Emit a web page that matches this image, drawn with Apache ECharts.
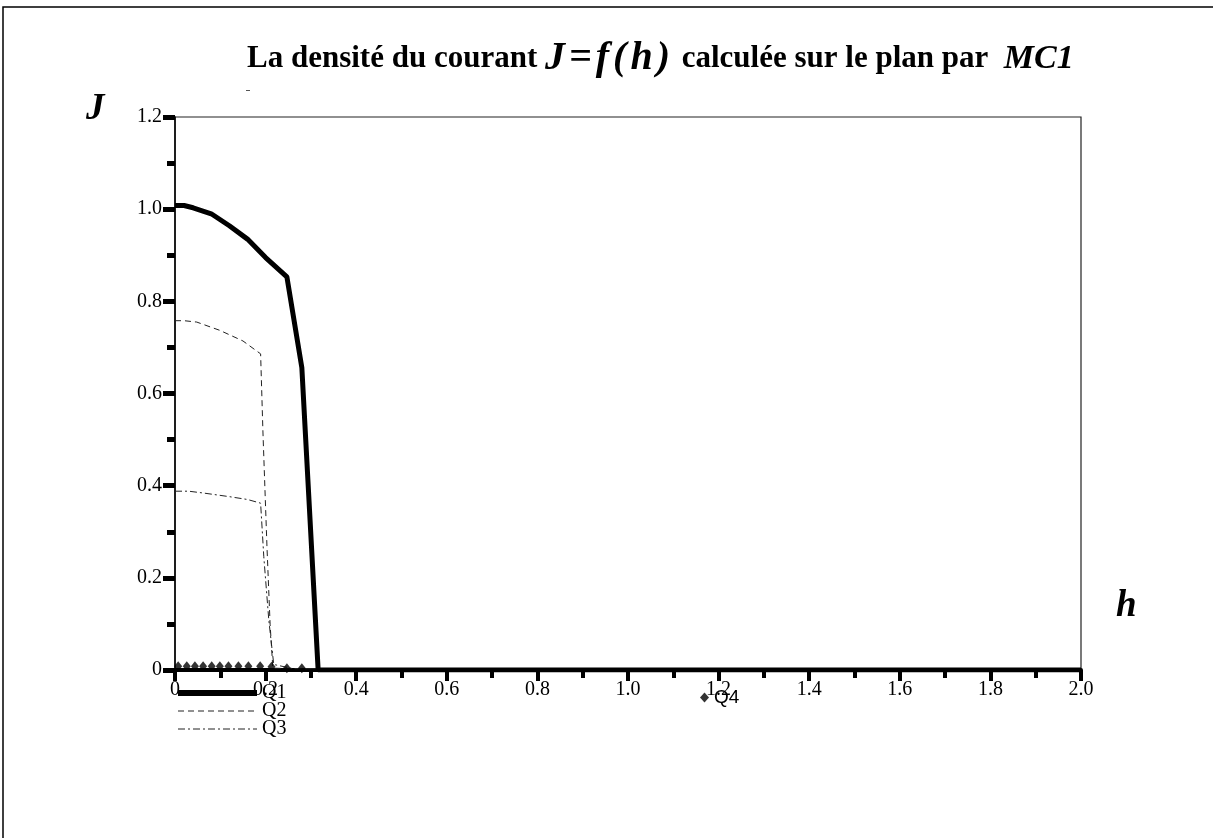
<!DOCTYPE html>
<html>
<head>
<meta charset="utf-8">
<title>J=f(h) MC1</title>
<script src="https://cdn.jsdelivr.net/npm/echarts@6/dist/echarts.min.js"></script>
<style>
  html, body { margin: 0; padding: 0; background: #fff; }
  #main { width: 1213px; height: 838px; }
</style>
</head>
<body>
<div id="main"></div>
<script>
// valeurs (h, J)
var q1H = [0, 0.02, 0.04, 0.08, 0.12, 0.16, 0.2, 0.247, 0.28, 0.316, 2.0];
var q1J = [1.008, 1.008, 1.003, 0.99, 0.964, 0.935, 0.895, 0.853, 0.656, 0, 0];

var q2H = [0, 0.02, 0.048, 0.099, 0.15, 0.189, 0.194, 0.203, 0.21, 0.216, 0.26, 2.0];
var q2J = [0.758, 0.758, 0.755, 0.737, 0.714, 0.686, 0.52, 0.268, 0.098, 0.004, 0.003, 0];

var q3H = [0, 0.03, 0.063, 0.121, 0.16, 0.189, 0.196, 0.207, 0.218, 0.26, 2.0];
var q3J = [0.388, 0.388, 0.384, 0.376, 0.37, 0.362, 0.246, 0.109, 0.012, 0.003, 0];

var q4H = [0.007, 0.026, 0.044, 0.062, 0.081, 0.099, 0.118, 0.14, 0.162, 0.188, 0.213, 0.247, 0.28];
var q4J = [0.008, 0.008, 0.008, 0.008, 0.008, 0.008, 0.008, 0.008, 0.008, 0.008, 0.007, 0.004, 0.004];

var seriesNames = ['Q1', 'Q2', 'Q3', 'Q4'];

function pairs(xs, ys) {
    var out = [];
    for (var i = 0; i < xs.length; i++) {
        out.push([xs[i], ys[i]]);
    }
    return out;
}

function tickLabel(v) {
    return v === 0 ? '0' : v.toFixed(1);
}

var serif = '"Liberation Serif", "DejaVu Serif", serif';
var chart = echarts.init(document.getElementById('main'), null, {renderer: 'canvas'});

// J=f(h) : lettres espacees comme dans l'original
var formula = ['J', '=', 'f', '(', 'h', ')'].map(function (ch) {
    return '{b|' + ch + '}';
}).join('');

var option = {
    backgroundColor: '#fff',
    animation: false,
    title: {
        left: 242,
        top: 34,
        text: '{a|La densité du courant }' + formula + '{a| calculée sur le plan par  }{c|MC1}',
        textStyle: {
            rich: {
                a: {fontFamily: serif, fontWeight: 'bold', fontSize: 31, color: '#000'},
                b: {fontFamily: serif, fontWeight: 'bold', fontStyle: 'italic', fontSize: 40, color: '#000', padding: [0, 4, 0, 0]},
                c: {fontFamily: serif, fontStyle: 'italic', fontSize: 34, color: '#000'}
            }
        }
    },
    legend: [
        {
            data: [
                {name: 'Q1', lineStyle: {width: 6}},
                {name: 'Q2', lineStyle: {width: 1}},
                {name: 'Q3', lineStyle: {width: 1}}
            ],
            orient: 'vertical',
            left: 175,
            top: 683,
            padding: 0,
            itemWidth: 79,
            itemHeight: 8,
            itemGap: -2,
            itemStyle: {opacity: 0},
            textStyle: {fontFamily: serif, fontSize: 20, color: '#000'}
        },
        {
            data: ['Q4'],
            left: 700,
            top: 688,
            padding: 0,
            itemWidth: 9,
            itemHeight: 10,
            textStyle: {fontFamily: '"Liberation Sans", Arial, sans-serif', fontSize: 19, color: '#000'}
        }
    ],
    grid: {
        left: 175,
        right: 132,
        top: 117,
        bottom: 168,
        containLabel: false,
        outerBoundsMode: 'none',
        show: true,
        borderWidth: 1.2,
        borderColor: '#222'
    },
    xAxis: {
        type: 'value',
        min: 0,
        max: 2.0,
        interval: 0.2,
        splitLine: {show: false},
        axisLine: {lineStyle: {color: '#000', width: 4}},
        axisTick: {length: 11, lineStyle: {color: '#000', width: 4}},
        minorTick: {show: true, splitNumber: 2, length: 8, lineStyle: {color: '#000', width: 4}},
        axisLabel: {
            margin: 10,
            fontFamily: serif,
            fontSize: 20,
            color: '#000',
            formatter: tickLabel
        }
    },
    yAxis: {
        type: 'value',
        min: 0,
        max: 1.2,
        interval: 0.2,
        splitLine: {show: false},
        axisLine: {lineStyle: {color: '#000', width: 1.5}},
        axisTick: {length: 12, lineStyle: {color: '#000', width: 5}},
        minorTick: {show: true, splitNumber: 2, length: 8, lineStyle: {color: '#000', width: 5}},
        axisLabel: {
            margin: 13,
            fontFamily: serif,
            fontSize: 20,
            color: '#000',
            formatter: tickLabel
        }
    },
    graphic: [
        {
            type: 'rect',
            shape: {x: 3, y: 7, width: 1400, height: 1000},
            style: {fill: 'none', stroke: '#000', lineWidth: 1.5},
            silent: true
        },
        {
            type: 'text',
            left: 86,
            top: 91,
            style: {text: 'J', font: 'italic bold 37px ' + serif, fill: '#000'}
        },
        {
            type: 'text',
            left: 1116,
            top: 588,
            style: {text: 'h', font: 'italic bold 37px ' + serif, fill: '#000'}
        },
        {
            type: 'rect',
            shape: {x: 246, y: 90, width: 4, height: 1},
            style: {fill: '#555'}
        }
    ],
    series: [
        {
            name: seriesNames[0],
            type: 'line',
            data: pairs(q1H, q1J),
            symbol: 'none',
            z: 5,
            itemStyle: {color: '#000'},
            lineStyle: {color: '#000', width: 5}
        },
        {
            name: seriesNames[1],
            type: 'line',
            data: pairs(q2H, q2J),
            symbol: 'none',
            itemStyle: {color: '#222'},
            lineStyle: {color: '#222', width: 1, type: [6, 4]}
        },
        {
            name: seriesNames[2],
            type: 'line',
            data: pairs(q3H, q3J),
            symbol: 'none',
            itemStyle: {color: '#222'},
            lineStyle: {color: '#222', width: 1, type: [7, 3, 2, 3]}
        },
        {
            name: seriesNames[3],
            type: 'scatter',
            data: pairs(q4H, q4J),
            symbol: 'diamond',
            symbolSize: [8, 10],
            z: 4,
            itemStyle: {color: '#000'}
        }
    ]
};

chart.setOption(option);
</script>
</body>
</html>
